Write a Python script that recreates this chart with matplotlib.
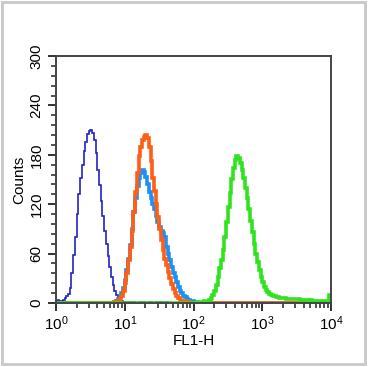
import numpy as np
import matplotlib
matplotlib.use('Agg')
import matplotlib.pyplot as plt
from matplotlib.patches import Rectangle
from matplotlib.ticker import FixedLocator, LogLocator, NullFormatter

plt.rcParams['font.family'] = ['Liberation Sans', 'DejaVu Sans']
plt.rcParams['mathtext.default'] = 'regular'

# histogram channels: 160 bins of 0.025 decade from 10^0 to 10^4
n_bins = 160
bin_width = 0.025

# counts per bin, each series starts at the given bin index
blue_start = 0
blue_counts = [3, 4, 2, 2, 4, 6, 8, 11, 18, 36, 58, 80, 108, 132, 152, 168, 185, 196, 205, 209,
               210, 206, 198, 182, 162, 143, 124, 106, 88, 72, 57, 44, 32, 22, 15, 10, 6, 4, 2, 1,
               1, 0, 1, 1, 0, 1, 0, 0, 1, 1, 0, 1, 0, 0, 1, 1, 0, 0, 1, 0, 1, 1, 0, 0, 1]

lightblue_start = 34
lightblue_counts = [1, 3, 5, 8, 12, 18, 28, 40, 54, 70, 90, 110, 128, 142, 152, 158, 161, 159, 153,
                    144, 135, 127, 120, 114, 106, 98, 92, 87, 85, 80, 68, 60, 52, 44, 37, 31, 25,
                    20, 15, 12, 9, 7, 5, 4, 3, 2, 1, 1]

orange_start = 34
orange_counts = [1, 2, 3, 5, 9, 14, 24, 36, 52, 68, 88, 110, 135, 158, 178, 190, 198, 202, 204, 200,
                 190, 172, 152, 136, 120, 104, 90, 77, 64, 54, 46, 38, 30, 23, 17, 12, 9, 6, 4, 3,
                 2, 2, 1, 1]

green_start = 82
green_counts = [1, 1, 1, 1, 2, 2, 3, 4, 6, 10, 15, 22, 31, 42, 52, 64, 80, 98, 116, 134, 150, 164,
                174, 178, 176, 170, 162, 152, 140, 128, 114, 100, 86, 72, 60, 50, 40, 32, 25, 20,
                16, 13, 11, 10, 9, 8, 7, 7, 6, 6, 6, 6, 5, 5, 5, 5, 5, 5, 5, 5, 4, 4, 4, 4, 4, 3,
                4, 3, 3, 3, 3, 3, 3, 3, 3, 2, 3, 10]

y_ticks = [0, 60, 120, 180, 240, 300]
x_ticks = [1, 10, 100, 1000, 10000]
x_labels = [r'$10^{0}$', r'$10^{1}$', r'$10^{2}$', r'$10^{3}$', r'$10^{4}$']


def full_series(start, counts):
    vals = np.zeros(n_bins)
    vals[start:start + len(counts)] = counts
    return vals


edges = 10 ** (bin_width * np.arange(n_bins + 1))

fig = plt.figure(figsize=(3.69, 3.67), dpi=100)
ax = fig.add_axes([0.1518, 0.1744, 0.7452, 0.6730])

series = [
    (blue_start, blue_counts, '#2323c4', 1.2),
    (lightblue_start, lightblue_counts, '#1e8ff5', 2.6),
    (orange_start, orange_counts, '#ff5e14', 2.6),
    (green_start, green_counts, '#2fe41f', 2.6),
]
for start, counts, color, lw in series:
    ax.stairs(full_series(start, counts), edges, color=color, linewidth=lw, baseline=None)

ax.set_xscale('log')
ax.set_xlim(1, 10000)
ax.set_ylim(0, 300)

ax.set_xticks(x_ticks)
ax.set_xticklabels(x_labels)
ax.xaxis.set_minor_locator(LogLocator(base=10, subs=np.arange(2, 10)))
ax.xaxis.set_minor_formatter(NullFormatter())
ax.set_yticks(y_ticks)
ax.yaxis.set_minor_locator(FixedLocator(np.arange(0, 301, 12)))
for lab in ax.get_yticklabels():
    lab.set_rotation(90)
    lab.set_va('center')

ax.tick_params(which='major', direction='out', length=6, width=1.3, labelsize=11, color='#222222', pad=2)
ax.tick_params(which='minor', direction='out', length=3.5, width=1.1, color='#222222')
ax.tick_params(axis='y', pad=3)
for sp in ax.spines.values():
    sp.set_color('#444444')
    sp.set_linewidth(1.4)

ax.set_xlabel('FL1-H', fontsize=11, labelpad=1)
ax.set_ylabel('Counts', fontsize=11, labelpad=2)

fig.patches.append(Rectangle((0.006, 0.008), 0.984, 0.986, transform=fig.transFigure,
                             fill=False, edgecolor='#c8c8c8', linewidth=2))

fig.savefig('out.png', dpi=100)
